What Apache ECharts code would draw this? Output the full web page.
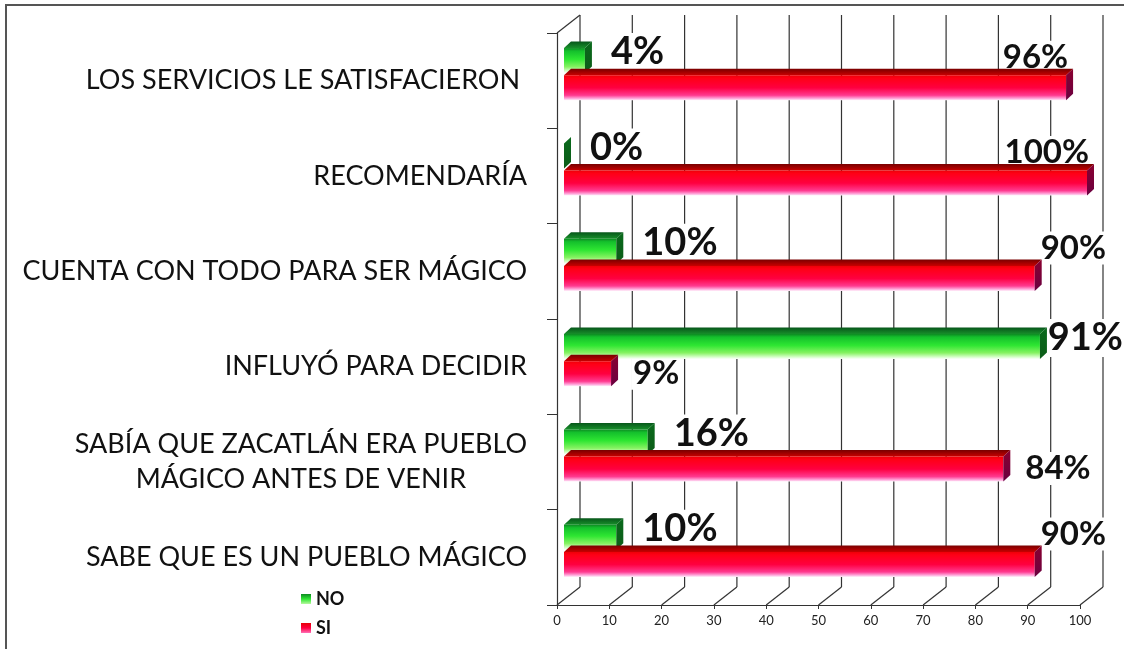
<!DOCTYPE html>
<html>
<head>
<meta charset="utf-8">
<script src="https://cdn.jsdelivr.net/npm/echarts@6/dist/echarts.min.js"></script>
<style>
  html, body { margin: 0; padding: 0; background: #fff; }
  #chart { position: absolute; left: 0; top: 0; width: 1124px; height: 649px; }
  #frame { position: absolute; left: 5px; top: 4px; width: 1130px; height: 660px;
           border-top: 2px solid #555; border-left: 2px solid #555; pointer-events: none; }
</style>
</head>
<body>
<div id="chart"></div>
<div id="frame"></div>
<script>
// Survey answers, percentage of respondents per question
const categories = [
  'LOS SERVICIOS LE SATISFACIERON ',
  'RECOMENDARÍA',
  'CUENTA CON TODO PARA SER MÁGICO',
  'INFLUYÓ PARA DECIDIR',
  'SABÍA QUE ZACATLÁN ERA PUEBLO\nMÁGICO ANTES DE VENIR',
  'SABE QUE ES UN PUEBLO MÁGICO'
];
const noValues = [4, 0, 10, 91, 16, 10];
const siValues = [96, 100, 90, 9, 84, 90];
const xTicks = [0, 10, 20, 30, 40, 50, 60, 70, 80, 90, 100];

const FONT = 'Lato, "Open Sans", "DejaVu Sans", sans-serif';

// 3D look: offset of the bar front plane, bar depth and back wall depth
const BAR_FRONT = [7, -6.5];
const BAR_DEPTH = [7, -6.5];
const WALL = [23, -18];
const RIGHT_LIMIT = 1121;
const BESIDE_LIMIT = 1110;

const measureCtx = document.createElement('canvas').getContext('2d');
function textWidth(text, font) {
  measureCtx.font = font;
  return measureCtx.measureText(text).width;
}

const lg = (stops) => new echarts.graphic.LinearGradient(0, 0, 0, 1,
  stops.map((c) => ({ offset: c[0], color: c[1] })));

const palette = {
  NO: {
    front: () => lg([[0, '#0d8a22'], [0.12, '#14c02c'], [0.45, '#2ee632'], [0.75, '#86f262'], [0.92, '#d8ffcc'], [1, '#ffffff']]),
    top: () => lg([[0, '#07561a'], [1, '#178f2a']]),
    side: () => lg([[0, '#0a6a1c'], [1, '#0c5c18']]),
    legend: lg([[0, '#0d8a22'], [0.5, '#2ee632'], [1, '#b8f8a0']])
  },
  SI: {
    front: () => lg([[0, '#ee0008'], [0.12, '#ff0016'], [0.5, '#ff0040'], [0.8, '#ff3a90'], [0.93, '#ffa8dc'], [1, '#fff2fb']]),
    top: () => lg([[0, '#780000'], [1, '#c80000']]),
    side: () => lg([[0, '#8a0030'], [1, '#6a0040']]),
    legend: lg([[0, '#e80008'], [0.5, '#ff0040'], [1, '#ff70b8']])
  }
};

function renderBar(params, api) {
  const name = params.seriesName;
  const isNo = name === 'NO';
  const v = api.value(0);
  const ci = api.value(1);
  const p0 = api.coord([0, ci]);
  const p1 = api.coord([v, ci]);
  const band = api.size([0, 1])[1];
  const h = band * 0.263;
  const gap = band * 0.011;
  const c = p0[1];
  const yTop = (isNo ? c - gap - h : c + gap) + BAR_FRONT[1];
  const yBot = yTop + h;
  const x0 = p0[0] + BAR_FRONT[0];
  const x1 = p1[0] + BAR_FRONT[0];
  const [dx, dy] = BAR_DEPTH;
  const col = palette[name];

  const children = [];
  if (x1 - x0 > 0.5) {
    children.push({
      type: 'polygon',
      z2: 10,
      shape: { points: [[x0, yTop], [x1, yTop], [x1 + dx, yTop + dy], [x0 + dx, yTop + dy]] },
      style: { fill: col.top() }
    });
    children.push({
      type: 'rect',
      z2: 10,
      shape: { x: x0, y: yTop, width: x1 - x0, height: h },
      style: { fill: col.front() }
    });
  }
  children.push({
    type: 'polygon',
    z2: 10,
    shape: { points: [[x1, yTop], [x1 + dx, yTop + dy], [x1 + dx, yBot + dy], [x1, yBot]] },
    style: { fill: col.side() }
  });

  // value label, boxed in white so the wall lines do not run through it
  const text = v + '%';
  let font, lx, ly;
  if (isNo) {
    font = 'bold 38px ' + FONT;
    const w = textWidth(text, font);
    lx = x1 + 24;
    if (lx + w > RIGHT_LIMIT) lx = RIGHT_LIMIT - w;
    ly = yTop + 4;
  } else {
    font = 'bold 33px ' + FONT;
    const w = textWidth(text, font);
    if (x1 + 20 + w <= BESIDE_LIMIT) {
      lx = x1 + 20;
      ly = yTop + 12;
    } else {
      lx = x1 + 4;
      if (lx + w > RIGHT_LIMIT) lx = x1 - w;
      ly = yTop - 18;
    }
  }
  children.push({
    type: 'text',
    z2: 1,
    style: {
      text: text, x: lx, y: ly, font: font, fill: '#111',
      align: 'left', verticalAlign: 'middle',
      backgroundColor: '#fff', padding: [0, 2]
    }
  });
  return { type: 'group', children: children };
}

function renderFrame(params, api) {
  const cs = params.coordSys;
  const top = cs.y;
  const bottom = cs.y + cs.height;
  const [wx, wy] = WALL;
  const lineStyle = { stroke: '#333', lineWidth: 1.2 };
  const children = [];
  xTicks.forEach(t => {
    const x = api.coord([t, 0])[0];
    children.push({
      type: 'line',
      shape: { x1: x + wx, y1: top + wy, x2: x + wx, y2: bottom + wy },
      style: lineStyle
    });
    children.push({
      type: 'line',
      shape: { x1: x, y1: bottom, x2: x + wx, y2: bottom + wy },
      style: lineStyle
    });
  });
  const x0 = api.coord([0, 0])[0];
  children.push({
    type: 'line',
    shape: { x1: x0, y1: top, x2: x0 + wx, y2: top + wy },
    style: lineStyle
  });
  return { type: 'group', children: children };
}

const chart = echarts.init(document.getElementById('chart'), null, { renderer: 'canvas' });

chart.setOption({
  animation: false,
  backgroundColor: '#fff',
  grid: { left: 557, top: 33, right: 44, bottom: 44, containLabel: false },
  legend: {
    orient: 'vertical',
    left: 296,
    top: 584,
    itemWidth: 10,
    itemHeight: 10,
    itemGap: 9,
    data: [{ name: 'NO', icon: 'rect' }, { name: 'SI', icon: 'rect' }],
    textStyle: { fontFamily: FONT, fontSize: 18, fontWeight: 'bold', color: '#111', lineHeight: 20 }
  },
  xAxis: {
    type: 'value',
    min: 0,
    max: 100,
    interval: 10,
    axisLine: { show: true, lineStyle: { color: '#333', width: 1.2 } },
    axisTick: { show: true, length: 4, lineStyle: { color: '#333' } },
    splitLine: { show: false },
    axisLabel: {
      margin: 9,
      fontFamily: FONT,
      fontSize: 13,
      color: '#222'
    }
  },
  yAxis: {
    type: 'category',
    inverse: true,
    data: categories,
    axisLine: { show: true, lineStyle: { color: '#333', width: 1.2 } },
    axisTick: { show: true, length: 10, lineStyle: { color: '#333' } },
    axisLabel: {
      margin: 30,
      color: '#111',
      fontFamily: FONT,
      fontSize: 27,
      lineHeight: 35,
      formatter: (val) => val.split('\n').map(s => '{c|' + s + '}').join('\n'),
      rich: {
        c: { align: 'center', fontFamily: FONT, fontSize: 27, lineHeight: 35, color: '#111' }
      }
    }
  },
  series: [
    {
      name: 'frame',
      type: 'custom',
      z: 1,
      silent: true,
      clip: false,
      renderItem: renderFrame,
      data: [[0, 0]],
      encode: { x: 0, y: 1 }
    },
    {
      name: 'NO',
      type: 'custom',
      z: 2,
      clip: false,
      itemStyle: { color: palette.NO.legend },
      renderItem: renderBar,
      data: noValues.map((v, i) => [v, i]),
      encode: { x: 0, y: 1 }
    },
    {
      name: 'SI',
      type: 'custom',
      z: 2,
      clip: false,
      itemStyle: { color: palette.SI.legend },
      renderItem: renderBar,
      data: siValues.map((v, i) => [v, i]),
      encode: { x: 0, y: 1 }
    }
  ]
});
</script>
</body>
</html>
